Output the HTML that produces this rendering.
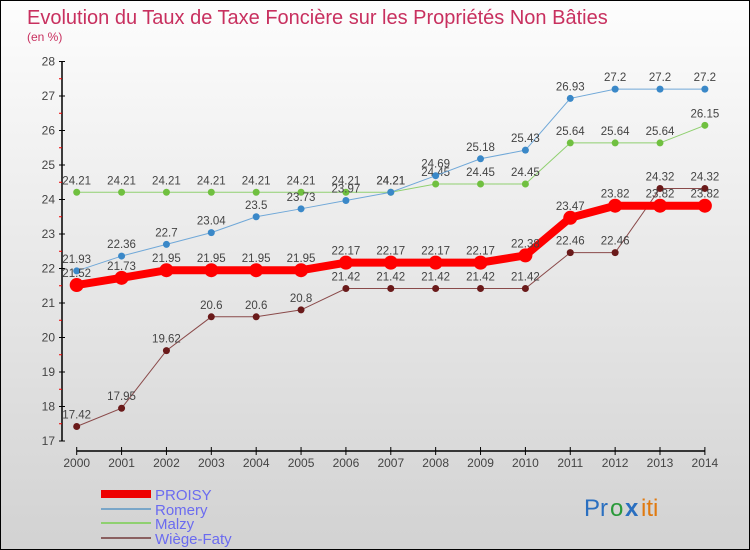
<!DOCTYPE html>
<html><head><meta charset="utf-8"><style>
body{margin:0;}
#c{position:relative;width:748px;height:548px;border:1px solid #000;background:linear-gradient(#fdfdfd,#d2d2d2);overflow:hidden;font-family:"Liberation Sans",sans-serif;}
</style></head><body>
<div id="c">
<svg id="s" width="748" height="548" style="position:absolute;left:0;top:0">
<text x="26" y="23" font-size="20" fill="#c8305f">Evolution du Taux de Taxe Foncière sur les Propriétés Non Bâties</text>
<text x="26" y="40" font-size="12" fill="#c8305f">(en %)</text>
<g id="axes"></g><g id="series"></g>
<g>
<rect x="100" y="489" width="50" height="8" fill="#e00"/>
<text x="154" y="499" font-size="15" fill="#6b6bf0">PROISY</text>
<rect x="100" y="507" width="50" height="2" fill="#7aa6c8"/>
<text x="154" y="514" font-size="15" fill="#6b6bf0">Romery</text>
<rect x="100" y="521" width="50" height="2" fill="#8fd070"/>
<text x="154" y="528" font-size="15" fill="#6b6bf0">Malzy</text>
<rect x="100" y="536" width="50" height="2" fill="#8a6060"/>
<text x="154" y="543" font-size="15" fill="#6b6bf0">Wiège-Faty</text>
</g>
<g font-size="24" font-family="Liberation Sans, sans-serif">
<text x="583" y="515" fill="#2a6fc0">Pr</text><text x="609" y="515" fill="#2a9a3a">o</text><text x="624" y="515" fill="#2a6fc0" font-weight="bold">x</text><text x="640" y="515" fill="#e07a10">iti</text>
</g>
</svg>
</div>
<script>
const years=[2000,2001,2002,2003,2004,2005,2006,2007,2008,2009,2010,2011,2012,2013,2014];
const yTicks=[17,18,19,20,21,22,23,24,25,26,27,28];
const proisy=[21.52,21.73,21.95,21.95,21.95,21.95,22.17,22.17,22.17,22.17,22.38,23.47,23.82,23.82,23.82];
const romery=[21.93,22.36,22.7,23.04,23.5,23.73,23.97,24.21,24.69,25.18,25.43,26.93,27.2,27.2,27.2];
const malzy=[24.21,24.21,24.21,24.21,24.21,24.21,24.21,24.21,24.45,24.45,24.45,25.64,25.64,25.64,26.15];
const wiege=[17.42,17.95,19.62,20.6,20.6,20.8,21.42,21.42,21.42,21.42,21.42,22.46,22.46,24.32,24.32];
const NS="http://www.w3.org/2000/svg";
const xS=i=>75.7+(i)*44.87;
const yS=v=>440-(v-17)*34.5;
function mk(t,a,p){const e=document.createElementNS(NS,t);for(const k in a)e.setAttribute(k,a[k]);p.appendChild(e);return e;}
const ax=document.getElementById('axes');
const yl=mk('line',{x1:61,y1:yS(28),x2:61,y2:yS(17),stroke:'#000','stroke-width':1.5},ax);


yTicks.forEach(v=>{
  mk('line',{x1:58,y1:yS(v),x2:64,y2:yS(v),stroke:'#000'},ax);
  if(v<28)mk('line',{x1:58,y1:yS(v+0.5),x2:61,y2:yS(v+0.5),stroke:'#e00'},ax);
  const t=mk('text',{x:54,y:yS(v)+4,'font-size':12,fill:'#444','text-anchor':'end'},ax);t.textContent=v;
  
  
});
const xl=mk('line',{x1:xS(0),y1:450,x2:xS(14),y2:450,stroke:'#000','stroke-width':1.5},ax);


years.forEach((y,i)=>{
  mk('line',{x1:xS(i),y1:446,x2:xS(i),y2:454,stroke:'#000'},ax);
  const t=mk('text',{x:xS(i),y:466,'font-size':12,fill:'#444','text-anchor':'middle'},ax);t.textContent=y;
  
  
});
const sg=document.getElementById('series');
function draw(vals,color,dot,lw,r,name){
  const g=mk('g',{},sg);
  
  
  mk('polyline',{points:vals.map((v,i)=>xS(i)+','+yS(v)).join(' '),fill:'none',stroke:color,'stroke-width':lw},g);
  vals.forEach((v,i)=>{
    const c=mk('circle',{cx:xS(i),cy:yS(v),r:r,fill:dot},g);
    
    
    const t=mk('text',{x:xS(i),y:yS(v)-8,'font-size':11.5,fill:'#444','text-anchor':'middle'},g);t.textContent=v;
    
    
  });
}
draw(malzy,'#90d070','#70c040',1,3.5,'malzy');
draw(romery,'#70a8d8','#3a88c8',1,3.5,'romery');
draw(wiege,'#8a4a4a','#6a1a1a',1,3.5,'wiege-faty');
draw(proisy,'#f00','#f00',8,7,'proisy');
</script>
</body></html>
